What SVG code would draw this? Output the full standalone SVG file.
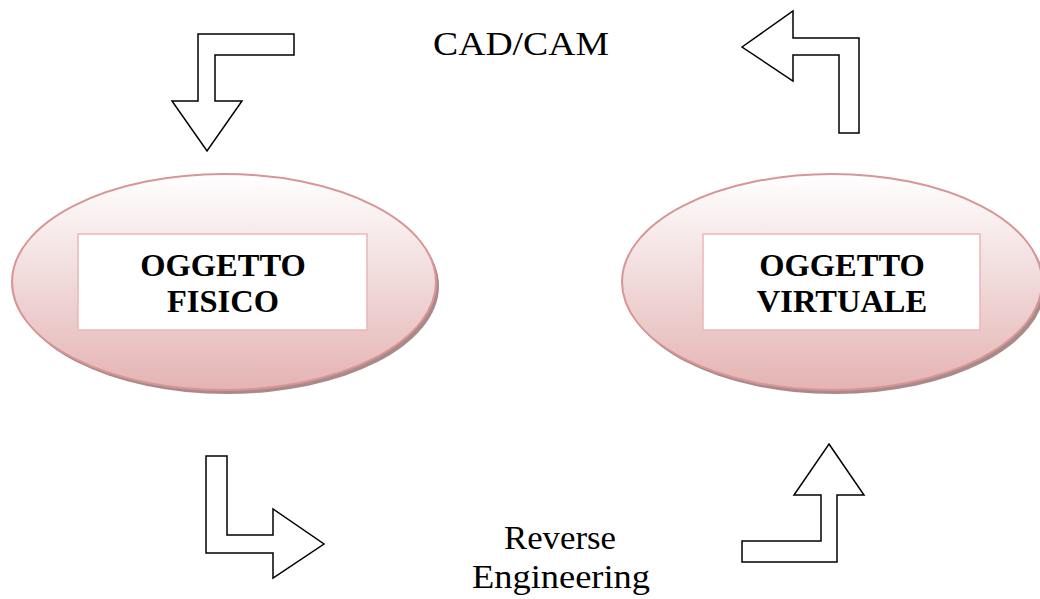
<svg xmlns="http://www.w3.org/2000/svg" width="1040" height="599" viewBox="0 0 1040 599">
  <defs>
    <linearGradient id="ellGrad" x1="0" y1="0" x2="0" y2="1">
      <stop offset="0" stop-color="#ffffff"/>
      <stop offset="0.5" stop-color="#f0d9d9"/>
      <stop offset="1" stop-color="#e5b3b3"/>
    </linearGradient>
  </defs>
  <style>
    .shadow { fill: #a88a8a; }
    .ell { fill: url(#ellGrad); stroke: #d99595; stroke-width: 2; }
    .box { fill: #ffffff; stroke: #eab7b7; stroke-width: 1.5; }
    .title { font-family: "Liberation Serif", "Times New Roman", serif; font-weight: bold; font-size: 32.5px; fill: #000; text-anchor: middle; }
    .label { font-family: "Liberation Serif", "Times New Roman", serif; font-size: 33px; fill: #000; text-anchor: middle; }
    .arrow { fill: #ffffff; stroke: #000000; stroke-width: 1.5; stroke-linejoin: miter; }
  </style>
  <rect width="1040" height="599" fill="#ffffff"/>

  <g id="oggetto-fisico">
    <ellipse class="shadow" cx="227" cy="286" rx="212" ry="108"/>
    <ellipse class="ell" cx="224" cy="282" rx="212" ry="108"/>
    <rect class="box" x="78" y="234" width="289" height="96"/>
    <text class="title" x="223" y="276">OGGETTO</text>
    <text class="title" x="223" y="312">FISICO</text>
  </g>

  <g id="oggetto-virtuale">
    <ellipse class="shadow" cx="835" cy="286" rx="210" ry="108"/>
    <ellipse class="ell" cx="832" cy="282" rx="210" ry="108"/>
    <rect class="box" x="703" y="234" width="277" height="96"/>
    <text class="title" x="842" y="276">OGGETTO</text>
    <text class="title" x="842" y="312">VIRTUALE</text>
  </g>

  <g id="connectors">
    <polygon class="arrow" points="198,34 294,34 294,55 215,55 215,101 242,101 207,151 172,101 198,101"/>
    <polygon class="arrow" points="742,47 793,11 793,38 859,38 859,133 839,133 839,55 793,55 793,81"/>
    <polygon class="arrow" points="206,456 227,456 227,535 273,535 273,509 324,544 273,578 273,553 206,553"/>
    <polygon class="arrow" points="829,444 864,495 837,495 837,562 742,562 742,541 821,541 821,495 794,495"/>
  </g>

  <g id="labels">
    <text class="label" x="521" y="55" textLength="176" lengthAdjust="spacingAndGlyphs">CAD/CAM</text>
    <text class="label" x="560" y="549" textLength="112" lengthAdjust="spacingAndGlyphs">Reverse</text>
    <text class="label" x="561" y="588" textLength="178" lengthAdjust="spacingAndGlyphs">Engineering</text>
  </g>
</svg>
